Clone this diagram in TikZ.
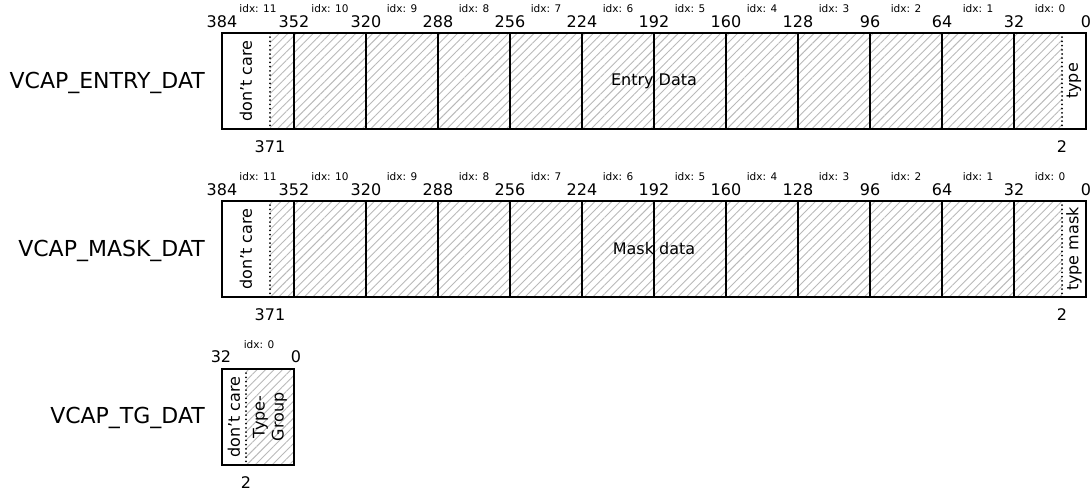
\documentclass[tikz,border=0pt]{standalone}
\usepackage{fontspec}
\setmainfont{DejaVu Sans}
\usetikzlibrary{patterns.meta}

\begin{document}
\begin{tikzpicture}[x=1pt, y=-1pt,
  lbl/.style={font=\fontsize{22}{24}\selectfont, anchor=east, inner sep=0pt},
  bit/.style={font=\fontsize{16}{18}\selectfont, inner sep=0pt},
  idx/.style={font=\fontsize{10.5}{12}\selectfont, inner sep=0pt},
  fld/.style={font=\fontsize{16}{19}\selectfont, inner sep=0pt, align=center},
  hatch/.style={pattern={Lines[angle=45,distance=6pt,line width=0.9pt]}, pattern color=gray!55},
  frame/.style={draw, line width=1.2pt},
  dc/.style={draw, line width=2pt, line cap=round, dash pattern=on 0pt off 4.2pt}]
\useasboundingbox (0,0) rectangle (1090,491);
% VCAP_ENTRY_DAT and VCAP_MASK_DAT: 12 words of 32 bits
\foreach \name/\top/\txt/\fldtxt/\tp in {entry/33/VCAP\_ENTRY\_DAT/Entry Data/type, mask/201/VCAP\_MASK\_DAT/Mask data/type mask} {
  \fill[hatch] (270,\top) rectangle (1062,\top+96);
  \foreach \k in {1,...,11} \draw[line width=1.2pt] (222+72*\k,\top) -- ++(0,96);
  \draw[frame] (222,\top) rectangle ++(864,96);
  \draw[dc] (270,\top) -- ++(0,96);
  \draw[dc] (1062,\top) -- ++(0,96);
  \foreach \k [evaluate=\k as \b using int(384-32*\k)] in {0,...,12}
    \node[bit] (\name-b\k) at (222+72*\k,\top-11) {\b};
  \foreach \k [evaluate=\k as \i using int(11-\k)] in {0,...,11}
    \node[idx] (\name-idx\k) at (258+72*\k,\top-24) {idx: \i};
  \node[bit] (\name-msb) at (270,\top+114) {371};
  \node[bit] (\name-lsb) at (1062,\top+114) {2};
  \node[lbl] (\name-lbl) at (205,\top+50) {\txt};
  \node[fld, rotate=90] (\name-dc) at (246,\top+48) {don’t care};
  \node[fld] (\name-fld) at (654,\top+48) {\fldtxt};
  \node[fld, rotate=90] (\name-tp) at (1074,\top+48) {\tp};
}
% VCAP_TG_DAT: one word
\fill[hatch] (246,369) rectangle (294,465);
\draw[frame] (222,369) rectangle (294,465);
\draw[dc] (246,369) -- (246,465);
\node[bit] (tg-b0) at (221,357) {32};
\node[bit] (tg-b1) at (296,357) {0};
\node[idx] (tg-idx0) at (259,345) {idx: 0};
\node[bit] (tg-lsb) at (246,483) {2};
\node[lbl] (tg-lbl) at (205,418) {VCAP\_TG\_DAT};
\node[fld, rotate=90] (tg-dc) at (234,417) {don’t care};
\node[fld, rotate=90] (tg-fld) at (270,417) {Type-\\Group};
\end{tikzpicture}
\end{document}
